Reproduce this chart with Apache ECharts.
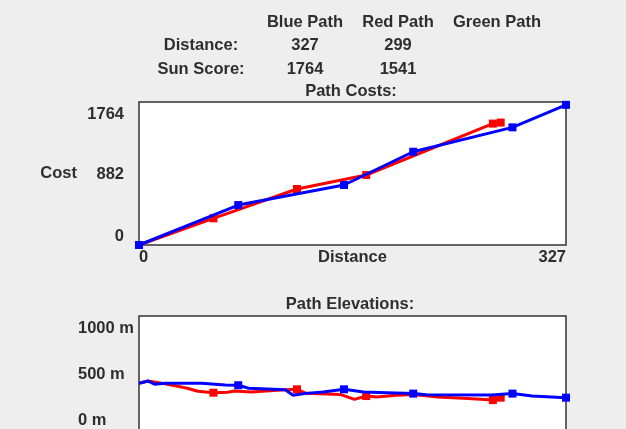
<!DOCTYPE html>
<html>
<head>
<meta charset="utf-8">
<script src="https://cdn.jsdelivr.net/npm/echarts@6.0.0/dist/echarts.min.js"></script>
<style>
    html, body { margin: 0; padding: 0; background: #eeeeee; }
    #chart { width: 626px; height: 429px; }
</style>
</head>
<body>
<div id="chart"></div>
<script>
    const pathNames = ["Blue Path", "Red Path", "Green Path"];
    const rowNames = ["Distance:", "Sun Score:"];
    const pathDistances = ["327", "299", ""];
    const sunScores = ["1764", "1541", ""];

    const costTicks = [0, 882, 1764];
    const elevationTicks = [0, 500, 1000];

    // path costs (distance -> cost)
    const blueCostDist = [0, 76, 157, 210, 286, 327];
    const blueCost = [0, 503, 755, 1174, 1481, 1764];
    const redCostDist = [0, 57, 121, 174, 271, 277];
    const redCost = [0, 336, 705, 881, 1528, 1541];

    // path elevations (distance -> metres), markers at the same distances as above
    const blueElevDist = [0, 7, 12, 20, 48, 66, 76, 84, 112, 118, 128, 141, 157, 172, 190, 210, 220, 270, 286, 301, 327];
    const blueElev = [421, 439, 412, 421, 421, 406, 403, 377, 364, 316, 333, 345, 368, 345, 339, 331, 322, 318, 331, 310, 296];
    const redElevDist = [0, 7, 22, 37, 45, 57, 68, 73, 86, 109, 121, 128, 154, 165, 174, 182, 197, 210, 229, 252, 271, 277];
    const redElev = [421, 439, 412, 377, 351, 339, 342, 353, 345, 362, 368, 333, 324, 281, 310, 301, 316, 324, 301, 289, 275, 296];

    const fontFamily = "'Liberation Sans', Arial, sans-serif";
    const textColor = "#2e2e2e";
    const labelFont = { fontFamily, fontSize: 16.5, fontWeight: "bold", color: textColor };

    const blue = "#0000ff";
    const red = "#ff0000";

    const text = (x, y, value) => ({
        type: "text",
        x,
        y,
        style: {
            text: value,
            align: "center",
            verticalAlign: "middle",
            fontFamily,
            fontSize: 16.5,
            fontWeight: "bold",
            fill: textColor
        }
    });

    const columnX = [201, 305, 398, 497];
    const rowY = [22, 45, 69];

    const graphic = [];
    pathNames.forEach((name, i) => graphic.push(text(columnX[i + 1], rowY[0], name)));
    rowNames.forEach((name, i) => graphic.push(text(columnX[0], rowY[i + 1], name)));
    pathDistances.forEach((value, i) => graphic.push(text(columnX[i + 1], rowY[1], value)));
    sunScores.forEach((value, i) => graphic.push(text(columnX[i + 1], rowY[2], value)));
    graphic.push(text(351, 91, "Path Costs:"));
    graphic.push(text(350, 304, "Path Elevations:"));

    const pairs = (xs, ys, marks) => xs.map((x, i) => ({
        value: [x, ys[i]],
        symbol: !marks || marks.includes(x) ? "rect" : "none"
    }));

    const lineSeries = (name, color, data, index) => ({
        name,
        type: "line",
        xAxisIndex: index,
        yAxisIndex: index,
        data,
        symbol: "rect",
        symbolSize: 8,
        showSymbol: true,
        lineStyle: { color, width: 3 },
        itemStyle: { color },
        emphasis: { disabled: true },
        z: name.startsWith("Blue") ? 3 : 2
    });

    const edgeLabel = (ticks, suffix, topPad, bottomPad) => ({
        ...labelFont,
        formatter(value) {
            const label = `${value}${suffix}`;
            if (value === ticks[ticks.length - 1]) {
                return `{hi|${label}}`;
            }
            if (value === ticks[0]) {
                return `{lo|${label}}`;
            }
            return label;
        },
        rich: {
            hi: { ...labelFont, padding: [topPad, 0, 0, 0] },
            lo: { ...labelFont, padding: [0, 0, bottomPad, 0] }
        }
    });

    const grid = {
        show: true,
        backgroundColor: "#ffffff",
        borderColor: "#333333",
        borderWidth: 1.5,
        outerBoundsMode: "none"
    };

    const option = {
        animation: false,
        backgroundColor: "#eeeeee",
        textStyle: { fontFamily },
        graphic,
        grid: [
            { ...grid, left: 139, right: 60, top: 102, height: 143 },
            { ...grid, left: 139, right: 60, top: 316, height: 116 }
        ],
        xAxis: [
            {
                gridIndex: 0,
                type: "value",
                min: 0,
                max: 327,
                interval: 327,
                name: "Distance",
                nameLocation: "middle",
                nameGap: 4,
                nameMoveOverlap: false,
                nameTextStyle: { ...labelFont, verticalAlign: "top" },
                axisLine: { show: false },
                axisTick: { show: false },
                splitLine: { show: false },
                axisLabel: { ...labelFont, margin: 4, alignMinLabel: "left", alignMaxLabel: "right" }
            },
            {
                gridIndex: 1,
                type: "value",
                min: 0,
                max: 327,
                axisLine: { show: false },
                axisTick: { show: false },
                splitLine: { show: false },
                axisLabel: { show: false }
            }
        ],
        yAxis: [
            {
                gridIndex: 0,
                type: "value",
                min: 0,
                max: 1800,
                interval: 882,
                name: "Cost",
                nameLocation: "middle",
                nameRotate: 0,
                nameGap: 62,
                nameMoveOverlap: false,
                nameTextStyle: { ...labelFont, align: "right", verticalAlign: "middle", padding: [6, 0, 0, 0] },
                axisLine: { show: false },
                axisTick: { show: false },
                splitLine: { show: false },
                axisLabel: { ...edgeLabel(costTicks, "", 20, 18), margin: 15, showMaxLabel: false }
            },
            {
                gridIndex: 1,
                type: "value",
                min: 0,
                max: 1000,
                interval: 500,
                axisLine: { show: false },
                axisTick: { show: false },
                splitLine: { show: false },
                axisLabel: { ...edgeLabel(elevationTicks, " m", 24, 24), margin: 61, align: "left" }
            }
        ],
        series: [
            lineSeries("Red cost", red, pairs(redCostDist, redCost), 0),
            lineSeries("Blue cost", blue, pairs(blueCostDist, blueCost), 0),
            lineSeries("Red elevation", red, pairs(redElevDist, redElev, redCostDist.slice(1)), 1),
            lineSeries("Blue elevation", blue, pairs(blueElevDist, blueElev, blueCostDist.slice(1)), 1)
        ]
    };

    const chart = echarts.init(document.getElementById("chart"), null, { renderer: "canvas" });
    chart.setOption(option);
</script>
</body>
</html>
